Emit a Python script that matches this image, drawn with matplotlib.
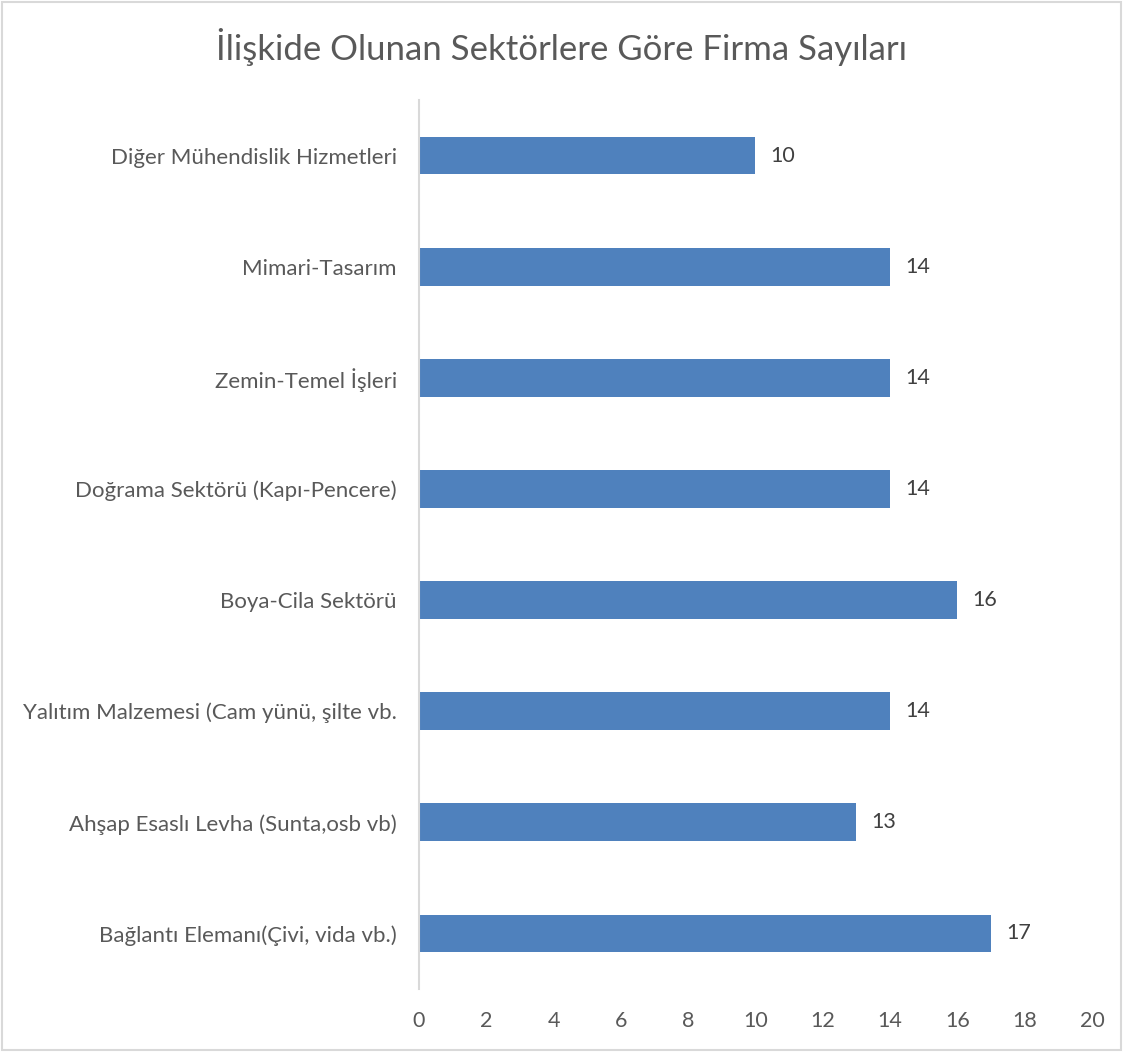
import matplotlib
matplotlib.use("Agg")
import matplotlib.pyplot as plt
from matplotlib.patches import Rectangle

categories = [
    "Bağlantı Elemanı(Çivi, vida vb.)",
    "Ahşap Esaslı Levha (Sunta,osb vb)",
    "Yalıtım Malzemesi (Cam yünü, şilte vb.",
    "Boya-Cila Sektörü",
    "Doğrama Sektörü (Kapı-Pencere)",
    "Zemin-Temel İşleri",
    "Mimari-Tasarım",
    "Diğer Mühendislik Hizmetleri",
]
counts = [17, 13, 14, 16, 14, 14, 14, 10]
x_ticks = [0, 2, 4, 6, 8, 10, 12, 14, 16, 18, 20]
title = "İlişkide Olunan Sektörlere Göre Firma Sayıları"

bar_color = "#4F81BD"
text_color = "#595959"
font = ["Lato", "DejaVu Sans"]

fig = plt.figure(figsize=(11.23, 10.52), dpi=100)
fig.patches.append(Rectangle((0.002, 0.002), 0.996, 0.996, transform=fig.transFigure,
                             fill=False, edgecolor="#D9D9D9", linewidth=1.5))

ax = fig.add_axes([0.3731, 0.0599, 0.5993, 0.845])
y = range(len(categories))
ax.barh(y, counts, height=0.34, color=bar_color)
ax.set_xlim(0, 20)
ax.set_ylim(-0.5, len(categories) - 0.5)
ax.set_xticks(x_ticks)
ax.set_xticklabels([str(t) for t in x_ticks], fontsize=15.5, color=text_color, family=font)
ax.set_yticks(list(y))
ax.set_yticklabels(categories, fontsize=16, color=text_color, family=font)
ax.tick_params(axis="both", length=0)
ax.tick_params(axis="y", pad=16)
ax.tick_params(axis="x", pad=16)
for side in ("top", "right", "bottom"):
    ax.spines[side].set_visible(False)
ax.spines["left"].set_color("#D9D9D9")
ax.spines["left"].set_linewidth(1.5)

for yi, v in zip(y, counts):
    ax.annotate(str(v), (v, yi), xytext=(11, 0), textcoords="offset points",
                va="center", ha="left", fontsize=15.5, color="#404040", family=font)

fig.text(0.5, 0.955, title, ha="center", va="center", fontsize=25,
         color=text_color, family=font)

fig.savefig("out.png", dpi=100)
